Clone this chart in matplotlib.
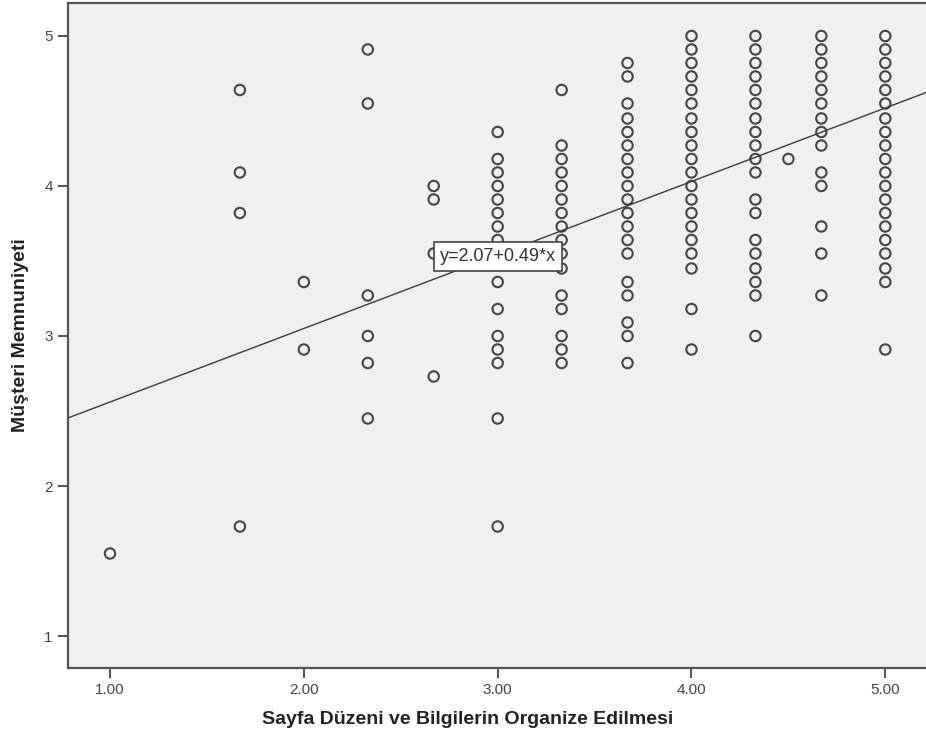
import matplotlib.pyplot as plt

# Scatter of page layout score vs. customer satisfaction, with fit line.

plt.rcParams['font.family'] = ['Liberation Sans', 'DejaVu Sans']

x_levels = [1.00, 1.67, 2.00, 2.33, 2.67, 3.00, 3.33, 3.67, 4.00, 4.33, 4.50, 4.67, 5.00]
y_at_1_00 = [1.55]
y_at_1_67 = [4.64, 4.09, 3.82, 1.73]
y_at_2_00 = [3.36, 2.91]
y_at_2_33 = [4.91, 4.55, 3.27, 3.00, 2.82, 2.45]
y_at_2_67 = [4.00, 3.91, 3.55, 2.73]
y_at_3_00 = [4.36, 4.18, 4.09, 4.00, 3.91, 3.82, 3.73, 3.64, 3.55, 3.36, 3.18, 3.00,
             2.91, 2.82, 2.45, 1.73]
y_at_3_33 = [4.64, 4.27, 4.18, 4.09, 4.00, 3.91, 3.82, 3.73, 3.64, 3.55, 3.45, 3.27,
             3.18, 3.00, 2.91, 2.82]
y_at_3_67 = [4.82, 4.73, 4.55, 4.45, 4.36, 4.27, 4.18, 4.09, 4.00, 3.91, 3.82, 3.73,
             3.64, 3.55, 3.36, 3.27, 3.09, 3.00, 2.82]
y_at_4_00 = [5.00, 4.91, 4.82, 4.73, 4.64, 4.55, 4.45, 4.36, 4.27, 4.18, 4.09, 4.00,
             3.91, 3.82, 3.73, 3.64, 3.55, 3.45, 3.18, 2.91]
y_at_4_33 = [5.00, 4.91, 4.82, 4.73, 4.64, 4.55, 4.45, 4.36, 4.27, 4.18, 4.09, 3.91,
             3.82, 3.64, 3.55, 3.45, 3.36, 3.27, 3.00]
y_at_4_50 = [4.18]
y_at_4_67 = [5.00, 4.91, 4.82, 4.73, 4.64, 4.55, 4.45, 4.36, 4.27, 4.09, 4.00, 3.73,
             3.55, 3.27]
y_at_5_00 = [5.00, 4.91, 4.82, 4.73, 4.64, 4.55, 4.45, 4.36, 4.27, 4.18, 4.09, 4.00,
             3.91, 3.82, 3.73, 3.64, 3.55, 3.45, 3.36, 2.91]

y_columns = [y_at_1_00, y_at_1_67, y_at_2_00, y_at_2_33, y_at_2_67, y_at_3_00, y_at_3_33,
             y_at_3_67, y_at_4_00, y_at_4_33, y_at_4_50, y_at_4_67, y_at_5_00]

intercept = 2.07
slope = 0.49

xs = []
ys = []
for xv, col in zip(x_levels, y_columns):
    for yv in col:
        xs.append(xv)
        ys.append(yv)

fig = plt.figure(figsize=(9.26, 7.45), dpi=100)
ax = fig.add_axes([0.0734, 0.1034, 0.9266, 0.8926])
ax.set_facecolor('#f0f0f0')

xmin, xmax = 0.783, 5.21
ax.set_xlim(xmin, xmax)
ax.set_ylim(0.787, 5.22)

ax.scatter(xs, ys, s=56, facecolors='none', edgecolors='#454545', linewidths=1.5, zorder=3)

ax.plot([xmin, xmax], [intercept + slope * xmin, intercept + slope * xmax],
        color='#3a3a3a', linewidth=1.0, zorder=4)

ax.text(2.70, 3.53, 'y=%.2f+%.2f*x' % (intercept, slope), fontsize=13, color='#333333',
        ha='left', va='center', zorder=5,
        bbox=dict(boxstyle='square,pad=0.33', facecolor='white', edgecolor='#444444', linewidth=1.2))

ax.set_xticks([1, 2, 3, 4, 5])
ax.set_xticklabels(['1.00', '2.00', '3.00', '4.00', '5.00'])
ax.set_yticks([1, 2, 3, 4, 5])
ax.set_yticklabels(['1', '2', '3', '4', '5'])
ax.tick_params(direction='out', length=7, width=1.3, color='#444444',
               labelsize=11, labelcolor='#444444', pad=4)

for side in ['left', 'bottom', 'top']:
    ax.spines[side].set_color('#555555')
    ax.spines[side].set_linewidth(1.6)
ax.spines['right'].set_visible(False)

ax.set_xlabel('Sayfa Düzeni ve Bilgilerin Organize Edilmesi', fontsize=14,
              fontweight='bold', color='#222222')
ax.set_ylabel('Müşteri Memnuniyeti', fontsize=14, fontweight='bold', color='#222222')
ax.xaxis.set_label_coords(0.466, -0.064)
ax.yaxis.set_label_coords(-0.045, 0.5)

fig.savefig('out.png', dpi=100)
